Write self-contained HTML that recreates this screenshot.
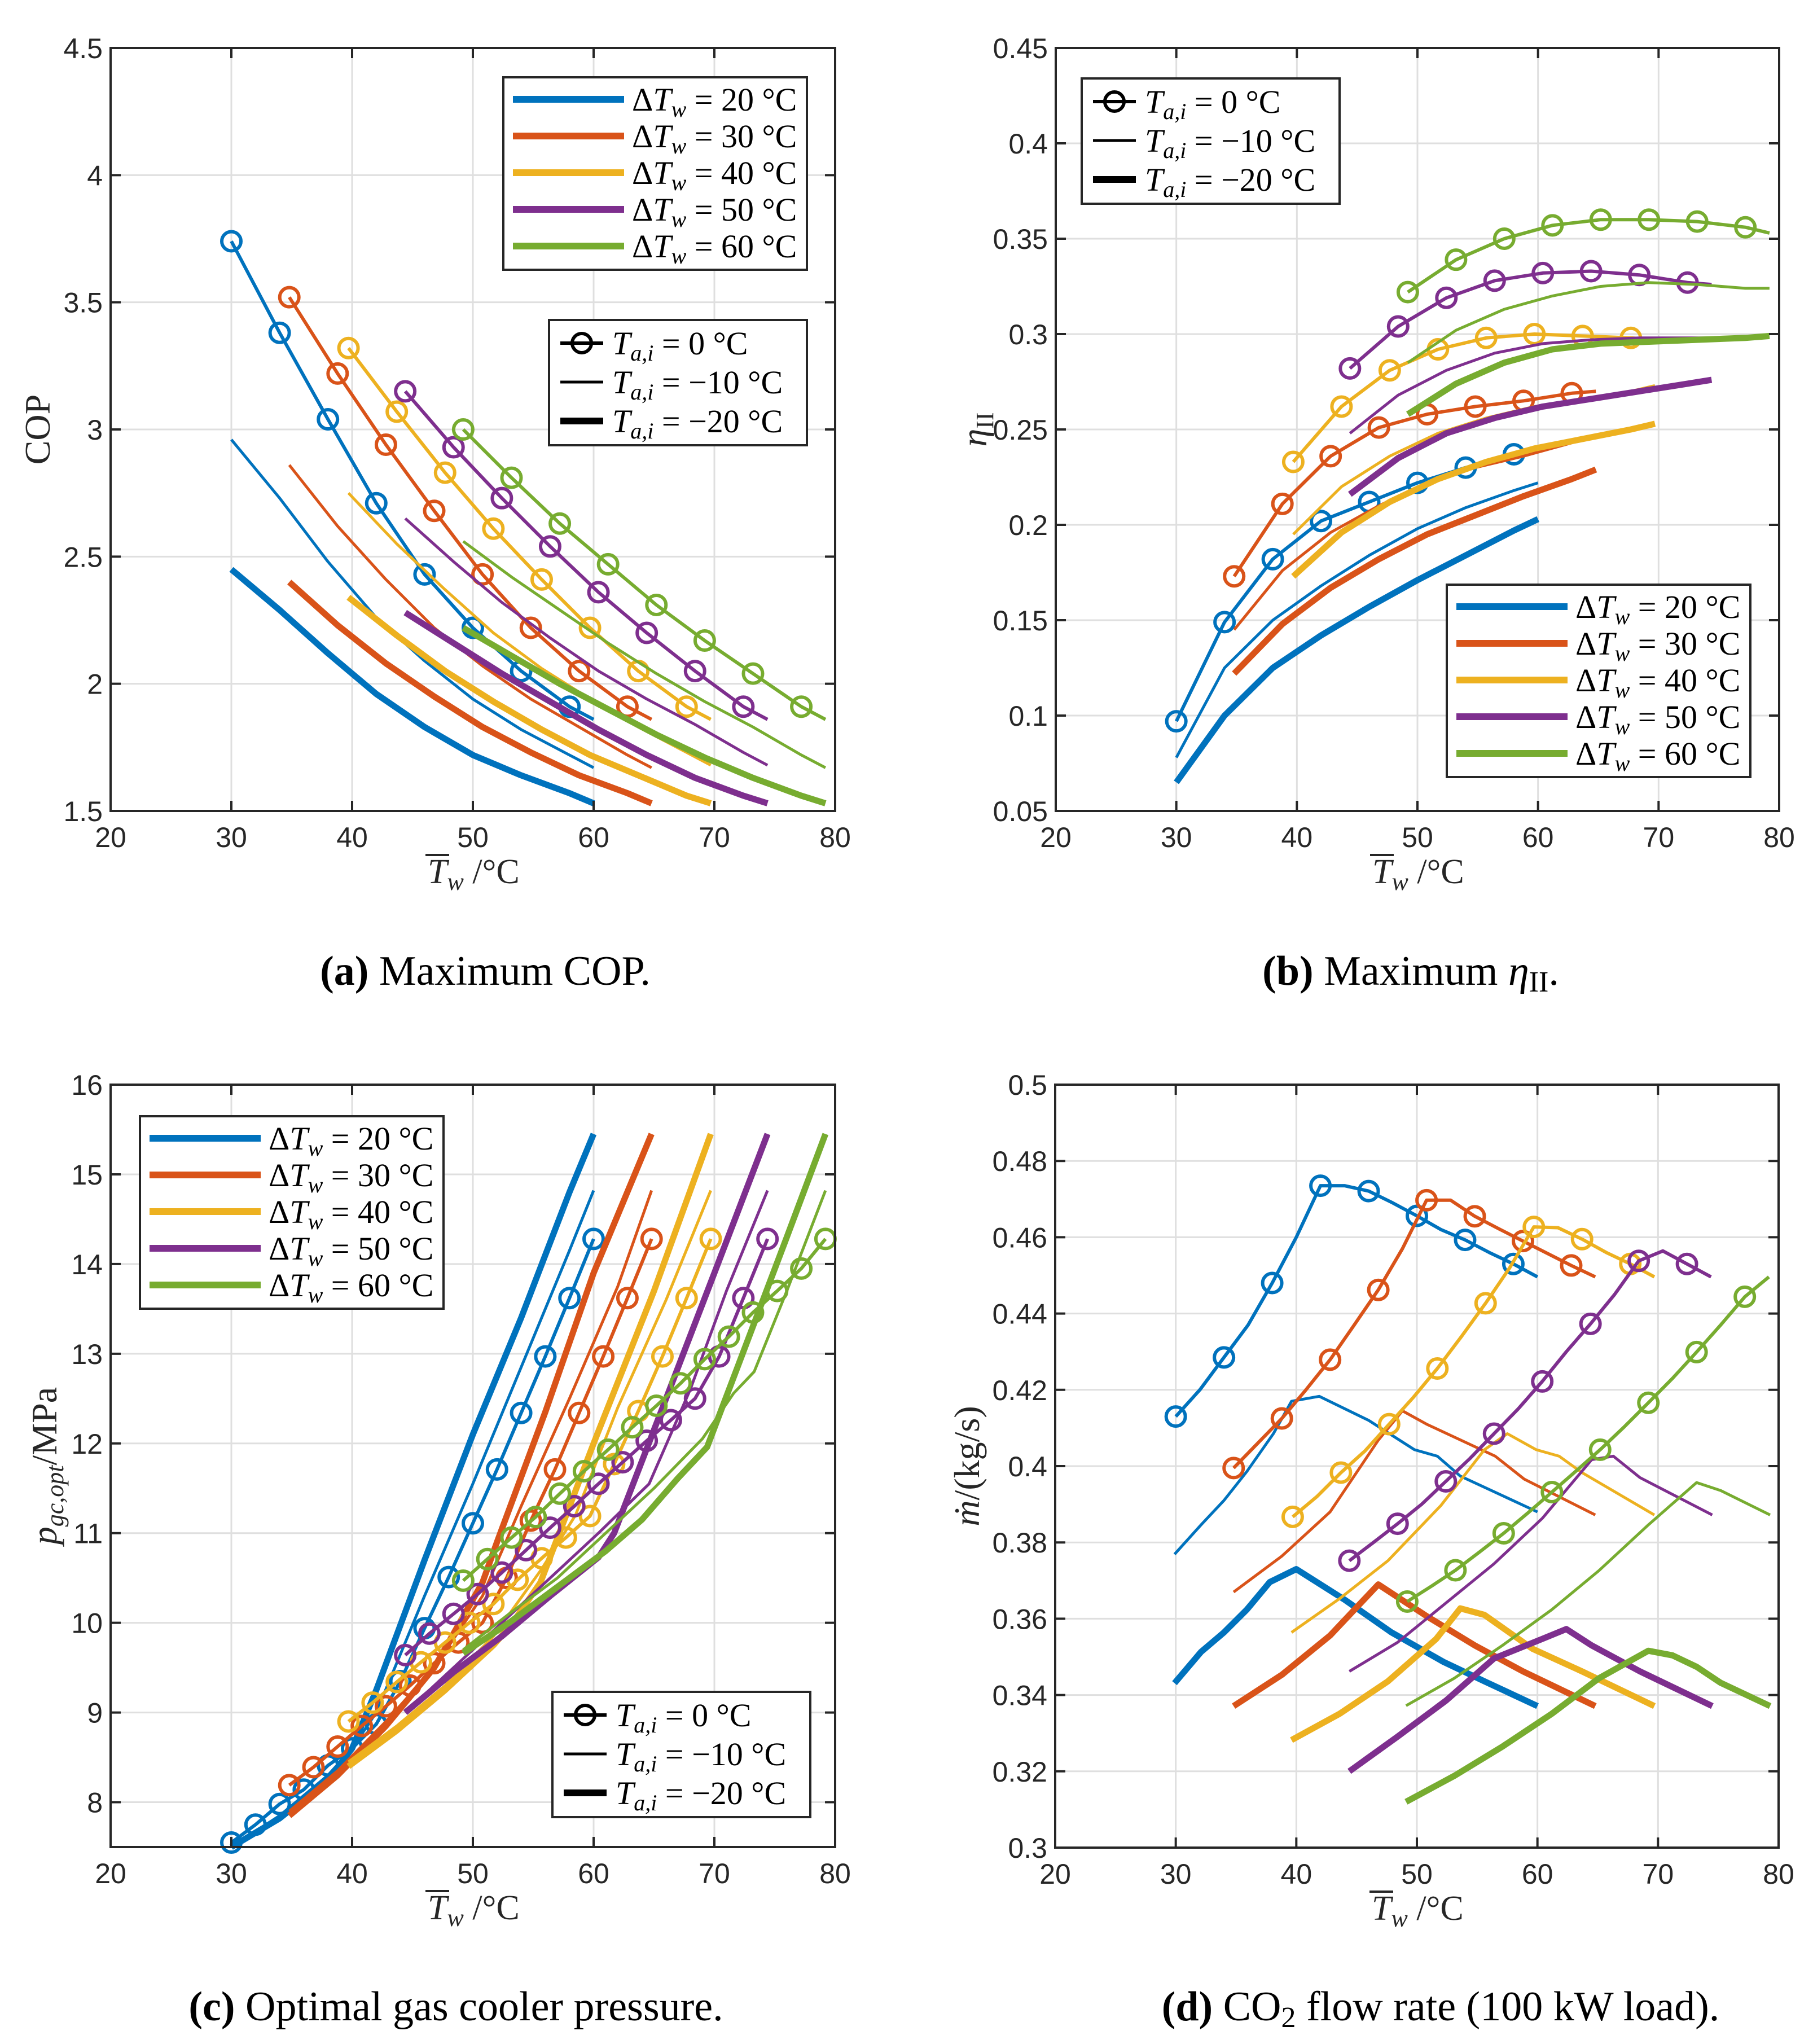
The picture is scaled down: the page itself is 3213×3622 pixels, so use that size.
<!DOCTYPE html>
<html><head><meta charset="utf-8"><title>CO2 heat pump performance</title>
<style>
html,body{margin:0;padding:0;background:#fff;}
svg{display:block;}
</style></head>
<body>
<svg id="chart" xmlns="http://www.w3.org/2000/svg" width="3213" height="3622" viewBox="0 0 3213 3622"></svg>
<script>
// ---------- data ----------
const seriesNames = ["dT20","dT30","dT40","dT50","dT60"];
const xTicks = [20,30,40,50,60,70,80];
const copTicks = [1.5,2,2.5,3,3.5,4,4.5];
const copTickLabels = ["1.5","2","2.5","3","3.5","4","4.5"];
const etaTicks = [0.05,0.1,0.15,0.2,0.25,0.3,0.35,0.4,0.45];
const etaTickLabels = ["0.05","0.1","0.15","0.2","0.25","0.3","0.35","0.4","0.45"];
const pTicks = [8,9,10,11,12,13,14,15,16];
const pTickLabels = ["8","9","10","11","12","13","14","15","16"];
const mTicks = [0.3,0.32,0.34,0.36,0.38,0.4,0.42,0.44,0.46,0.48,0.5];
const mTickLabels = ["0.3","0.32","0.34","0.36","0.38","0.4","0.42","0.44","0.46","0.48","0.5"];

const xAB = [
[30,34,38,42,46,50,54,58,60],
[34.8,38.8,42.8,46.8,50.8,54.8,58.8,62.8,64.8],
[39.7,43.7,47.7,51.7,55.7,59.7,63.7,67.7,69.7],
[44.4,48.4,52.4,56.4,60.4,64.4,68.4,72.4,74.4],
[49.2,53.2,57.2,61.2,65.2,69.2,73.2,77.2,79.2]];

const copY0 = [
[3.74,3.38,3.04,2.71,2.43,2.22,2.05,1.91,1.86],
[3.52,3.22,2.94,2.68,2.43,2.22,2.05,1.91,1.86],
[3.32,3.07,2.83,2.61,2.41,2.22,2.05,1.91,1.86],
[3.15,2.93,2.73,2.54,2.36,2.20,2.05,1.91,1.86],
[3.00,2.81,2.63,2.47,2.31,2.17,2.04,1.91,1.86]];
const copY10 = [
[2.96,2.73,2.48,2.26,2.09,1.94,1.82,1.72,1.67],
[2.86,2.62,2.41,2.22,2.07,1.94,1.83,1.72,1.67],
[2.75,2.55,2.37,2.20,2.06,1.94,1.83,1.73,1.68],
[2.65,2.48,2.32,2.18,2.05,1.94,1.84,1.73,1.68],
[2.56,2.42,2.29,2.16,2.04,1.93,1.83,1.72,1.67]];
const copY20 = [
[2.45,2.29,2.12,1.96,1.83,1.72,1.64,1.57,1.53],
[2.40,2.23,2.08,1.95,1.83,1.73,1.64,1.57,1.53],
[2.34,2.19,2.05,1.93,1.82,1.72,1.64,1.56,1.53],
[2.28,2.16,2.04,1.93,1.82,1.72,1.63,1.56,1.53],
[2.22,2.11,2.00,1.90,1.80,1.71,1.63,1.56,1.53]];

const etaY0 = [
[0.097,0.149,0.182,0.202,0.212,0.222,0.230,0.237,0.240],
[0.173,0.211,0.236,0.251,0.258,0.262,0.265,0.269,0.270],
[0.233,0.262,0.281,0.292,0.298,0.300,0.299,0.298,0.297],
[0.282,0.304,0.319,0.328,0.332,0.333,0.331,0.327,0.326],
[0.322,0.339,0.350,0.357,0.360,0.360,0.359,0.356,0.353]];
const etaY10 = [
[0.078,0.125,0.150,0.168,0.184,0.198,0.209,0.218,0.222],
[0.145,0.176,0.196,0.210,0.222,0.230,0.236,0.243,0.247],
[0.195,0.220,0.236,0.248,0.256,0.262,0.266,0.270,0.273],
[0.248,0.268,0.281,0.290,0.295,0.297,0.298,0.298,0.298],
[0.285,0.302,0.313,0.320,0.325,0.327,0.326,0.324,0.324]];
const etaY20 = [
[0.065,0.100,0.125,0.142,0.157,0.171,0.184,0.197,0.203],
[0.122,0.148,0.167,0.182,0.195,0.205,0.215,0.224,0.229],
[0.173,0.196,0.212,0.224,0.233,0.240,0.245,0.250,0.253],
[0.216,0.235,0.248,0.256,0.262,0.266,0.270,0.274,0.276],
[0.258,0.274,0.285,0.292,0.295,0.296,0.297,0.298,0.299]];

const xCD0 = [
[30,32,34,36,38,40,42,44,46,48,50,52,54,56,58,60],
[34.8,36.8,38.8,40.8,42.8,44.8,46.8,48.8,50.8,52.8,54.8,56.8,58.8,60.8,62.8,64.8],
[39.7,41.7,43.7,45.7,47.7,49.7,51.7,53.7,55.7,57.7,59.7,61.7,63.7,65.7,67.7,69.7],
[44.4,46.4,48.4,50.4,52.4,54.4,56.4,58.4,60.4,62.4,64.4,66.4,68.4,70.4,72.4,74.4],
[49.2,51.2,53.2,55.2,57.2,59.2,61.2,63.2,65.2,67.2,69.2,71.2,73.2,75.2,77.2,79.2]];
const pY0 = [
[7.55,7.75,7.98,8.14,8.41,8.6,8.87,9.35,9.94,10.51,11.11,11.71,12.34,12.97,13.62,14.28],
[8.19,8.39,8.62,8.85,9.07,9.3,9.55,9.78,10.0,10.5,11.14,11.71,12.34,12.97,13.62,14.28],
[8.9,9.11,9.34,9.56,9.78,10.0,10.21,10.48,10.72,10.95,11.19,11.77,12.36,12.97,13.62,14.28],
[9.64,9.88,10.1,10.32,10.56,10.81,11.06,11.3,11.55,11.79,12.03,12.26,12.5,12.97,13.62,14.28],
[10.47,10.71,10.95,11.18,11.44,11.69,11.93,12.18,12.42,12.67,12.94,13.19,13.46,13.7,13.95,14.28]];
const pX10 = [
[30,34,38,40,42,46,50,54,58,60],
[34.8,38.8,42.8,46.8,50.8,54,58,62,64.8],
[39.7,43.7,47.7,51.7,55.7,58.5,62,66,69.7],
[44.4,48.4,52.4,56.4,60.4,64.6,68,71,74.4],
[49.2,53,57,61,65,69,71.6,73.3,76,79.2]];
const pY10 = [
[7.5,7.85,8.3,8.6,9.0,10.3,11.55,12.85,14.15,14.82],
[7.9,8.35,8.9,9.5,10.3,11.3,12.5,13.75,14.82],
[8.45,8.85,9.3,9.85,10.6,11.2,12.4,13.6,14.82],
[9.0,9.5,10.0,10.5,11.0,11.55,12.6,13.7,14.82],
[9.7,10.1,10.5,11.0,11.5,12.05,12.56,12.8,13.7,14.82]];
const pX20 = [
[30,34,38,40,42,46,50,54,58,60],
[34.8,38.8,42.8,46.8,50.8,52,56,60,64.8],
[39.7,43.7,47.7,51.7,53.2,55.6,60,65,69.7],
[44.4,48.4,52.4,56.4,60.4,61.7,66,70,74.4],
[49.2,53,57,61,64,66.9,69.4,72,76,79.2]];
const pY20 = [
[7.5,7.82,8.25,8.6,9.25,10.7,12.1,13.4,14.8,15.45],
[7.85,8.3,8.85,9.5,10.45,10.9,12.35,13.9,15.45],
[8.4,8.8,9.25,9.75,9.98,10.45,12.0,13.7,15.45],
[9.0,9.45,9.85,10.3,10.73,11.0,12.5,13.9,15.45],
[9.66,10.0,10.4,10.8,11.15,11.6,11.96,12.88,14.3,15.45]];

const mY0 = [
[0.413,0.42,0.4285,0.437,0.448,0.46,0.4735,0.4735,0.4721,0.469,0.4656,0.462,0.4593,0.456,0.453,0.4496],
[0.3995,0.406,0.4125,0.42,0.4279,0.437,0.4462,0.457,0.4697,0.4697,0.4655,0.4622,0.459,0.4558,0.4526,0.4496],
[0.3867,0.392,0.3983,0.404,0.411,0.418,0.4256,0.434,0.4427,0.452,0.4627,0.4625,0.4595,0.456,0.453,0.4496],
[0.3752,0.38,0.3849,0.39,0.396,0.402,0.4085,0.415,0.4222,0.43,0.4373,0.445,0.4538,0.4564,0.453,0.4496],
[0.3645,0.3685,0.3727,0.3775,0.3824,0.3877,0.3932,0.3987,0.4043,0.4103,0.4166,0.423,0.4299,0.437,0.4444,0.4496]];
const mX10 = [
[29.9,32.1,34,35.9,38.1,39.6,41.9,46,49.8,51.7,53.6,60],
[34.8,38.8,42.8,46.8,48.8,50.8,56.5,58.9,64.8],
[39.6,43.6,47.6,52,55.6,57.5,59.9,61.8,63.7,69.7],
[44.4,48.4,52.4,56.4,60.4,64.5,66.3,68.5,74.5],
[49.1,53.1,57.1,61.2,65.1,69.2,73.2,75.2,79.3]];
const mY10 = [
[0.3769,0.3846,0.391,0.3986,0.4085,0.417,0.4183,0.412,0.4043,0.4026,0.3974,0.388],
[0.367,0.3764,0.388,0.4068,0.4145,0.411,0.4026,0.3966,0.3872],
[0.3564,0.3653,0.3752,0.3897,0.4043,0.4085,0.4043,0.4026,0.3983,0.3872],
[0.3462,0.3538,0.3641,0.3744,0.3863,0.4017,0.4026,0.397,0.3872],
[0.3372,0.3444,0.353,0.3624,0.3726,0.3846,0.3957,0.3936,0.3872]];
const mX20 = [
[29.9,32.1,34,35.9,37.8,40,44,47.9,52.2,55.6,60],
[34.8,38.8,42.8,46.8,50.8,54.8,58.8,64.8],
[39.6,43.6,47.6,51.6,53.6,55.6,59.6,63.7,69.7],
[44.4,48.4,52.4,56.4,60.4,62.4,64.5,68.5,74.5],
[49.1,53.1,57.1,61.2,65.1,69.2,71.2,73.2,75.2,79.3]];
const mY20 = [
[0.3431,0.3513,0.3564,0.3624,0.3696,0.373,0.365,0.3564,0.3487,0.3436,0.3371],
[0.3371,0.3453,0.3556,0.369,0.3607,0.353,0.3462,0.3371],
[0.3282,0.3351,0.3436,0.3547,0.3627,0.361,0.3521,0.3462,0.3371],
[0.32,0.3291,0.3385,0.3496,0.3547,0.3573,0.353,0.3462,0.3371],
[0.312,0.3188,0.3265,0.3351,0.3444,0.3516,0.3504,0.3474,0.3432,0.3371]];

const legendDT = ["20","30","40","50","60"];
const legendTa = ["0","\u221210","\u221220"];

// ---------- rendering ----------
const NS = "http://www.w3.org/2000/svg";
const svg = document.getElementById("chart");
const COLORS = ["#0072BD","#D95319","#EDB120","#7E2F8E","#77AC30"];
const INK = "#262626";
function mk(tag, attrs, parent){
  const e = document.createElementNS(NS, tag);
  for (const k in attrs) e.setAttribute(k, attrs[k]);
  parent.appendChild(e);
  return e;
}

function makeAxes(P, yTicks, yLabels){
  const g = mk("g", {}, svg);
  
  
  P.sx = v => P.x0 + (v - 20) / 60 * (P.x1 - P.x0);
  P.sy = v => P.y1 - (v - P.ymin) / (P.ymax - P.ymin) * (P.y1 - P.y0);
  const grid = mk("g", {stroke:"#dfdfdf","stroke-width":3}, g);
  
  
  xTicks.forEach(t => mk("line", {x1:P.sx(t), x2:P.sx(t), y1:P.y0, y2:P.y1}, grid));
  yTicks.forEach(t => mk("line", {x1:P.x0, x2:P.x1, y1:P.sy(t), y2:P.sy(t)}, grid));
  P.g = g;
  P.plot = mk("g", {fill:"none","stroke-linejoin":"round","stroke-linecap":"butt"}, g);
  
  
  P.yTicks = yTicks; P.yLabels = yLabels;
}

function finishAxes(P){
  const g = P.g;
  const ax = mk("g", {stroke:INK,"stroke-width":4}, g);
  
  
  mk("rect", {x:P.x0, y:P.y0, width:P.x1-P.x0, height:P.y1-P.y0, fill:"none"}, ax);
  const L = 18;
  xTicks.forEach(t => {
    mk("line", {x1:P.sx(t), x2:P.sx(t), y1:P.y1, y2:P.y1-L}, ax);
    mk("line", {x1:P.sx(t), x2:P.sx(t), y1:P.y0, y2:P.y0+L}, ax);
  });
  P.yTicks.forEach(t => {
    mk("line", {x1:P.x0, x2:P.x0+L, y1:P.sy(t), y2:P.sy(t)}, ax);
    mk("line", {x1:P.x1, x2:P.x1-L, y1:P.sy(t), y2:P.sy(t)}, ax);
  });
  const tl = mk("g", {fill:INK,"font-family":"'Liberation Sans', Arial, sans-serif","font-size":50}, g);
  
  
  xTicks.forEach(t => {
    const e = mk("text", {x:P.sx(t), y:P.y1+64, "text-anchor":"middle"}, tl);
    e.textContent = String(t);
  });
  P.yTicks.forEach((t,i) => {
    const e = mk("text", {x:P.x0-14, y:P.sy(t)+18, "text-anchor":"end"}, tl);
    e.textContent = P.yLabels[i];
  });
  // x-axis title
  const cx = (P.x0+P.x1)/2;
  const xt = mk("g", {}, g);
  
  
  const tx = mk("text", {x:cx-80, y:P.y1+128, "font-family":"'Liberation Serif', serif","font-size":62, fill:INK}, xt);
  tx.innerHTML = '<tspan font-style="italic">T</tspan><tspan font-style="italic" font-size="44" dy="12">w</tspan><tspan dy="-12"> /°C</tspan>';
  mk("line", {x1:cx-84, x2:cx-42, y1:P.y1+78, y2:P.y1+78, stroke:INK, "stroke-width":4}, xt);
}

function drawSeries(P, xs, ys, color, width, marker){
  const pts = xs.map((x,i) => P.sx(x).toFixed(1)+","+P.sy(ys[i]).toFixed(1)).join(" ");
  const pl = mk("polyline", {points:pts, stroke:color, "stroke-width":width}, P.plot);
  
  
  if (marker){
    xs.forEach((x,i) => {
      if (i % marker.every !== 0) return;
      if (i === xs.length-1 && !marker.last) return;
      const c = mk("circle", {cx:P.sx(x), cy:P.sy(ys[i]), r:17, stroke:color, "stroke-width":6, fill:"none"}, P.plot);
      
      
    });
  }
}

function legendDTBox(P, x, y){
  const g = mk("g", {}, P.g);
  
  
  mk("rect", {x:x, y:y, width:538, height:341, fill:"#fff", stroke:INK, "stroke-width":4}, g);
  legendDT.forEach((v,i) => {
    const yy = y + 39 + i*65;
    const e = mk("g", {}, g);
    
    
    mk("line", {x1:x+17, x2:x+214, y1:yy, y2:yy, stroke:COLORS[i], "stroke-width":12}, e);
    const t = mk("text", {x:x+228, y:yy+20, "font-family":"'Liberation Serif', serif","font-size":58, fill:"#000"}, e);
    t.innerHTML = 'Δ<tspan font-style="italic">T</tspan><tspan font-style="italic" font-size="40" dy="11">w</tspan><tspan dy="-11"> = ' + v + ' °C</tspan>';
  });
}

function legendTaBox(P, x, y){
  const g = mk("g", {}, P.g);
  
  
  mk("rect", {x:x, y:y, width:457, height:222, fill:"#fff", stroke:INK, "stroke-width":4}, g);
  legendTa.forEach((v,i) => {
    const yy = y + 41 + i*69;
    const e = mk("g", {}, g);
    
    
    const w = i===0 ? 6 : (i===1 ? 5 : 12);
    mk("line", {x1:x+20, x2:x+96, y1:yy, y2:yy, stroke:"#000", "stroke-width":w}, e);
    if (i===0) mk("circle", {cx:x+58, cy:yy, r:17, stroke:"#000", "stroke-width":6, fill:"none"}, e);
    const t = mk("text", {x:x+112, y:yy+20, "font-family":"'Liberation Serif', serif","font-size":58, fill:"#000"}, e);
    t.innerHTML = '<tspan font-style="italic">T</tspan><tspan font-style="italic" font-size="40" dy="11">a,i</tspan><tspan dy="-11"> = ' + v + ' °C</tspan>';
  });
}

function yTitle(P, x, html){
  const cy = (P.y0+P.y1)/2;
  const t = mk("text", {x:x, y:cy, "text-anchor":"middle", transform:"rotate(-90 "+x+" "+cy+")", "font-family":"'Liberation Serif', serif","font-size":64, fill:INK}, P.g);
  
  
  t.innerHTML = html;
}

function caption(x, y, html){
  const t = mk("text", {x:x, y:y, "text-anchor":"middle", "font-family":"'Liberation Serif', serif","font-size":74, fill:"#000"}, svg);
  
  
  t.innerHTML = html;
}

function drawSet(P, x0s, y0s, x10s, y10s, x20s, y20s, marker){
  for (let i=0;i<5;i++){
    drawSeries(P, x20s[i], y20s[i], COLORS[i], 11, null);
    drawSeries(P, x10s[i], y10s[i], COLORS[i], 5, null);
    drawSeries(P, x0s[i], y0s[i], COLORS[i], 6, marker);
  }
}

// Panel A
const PA = {name:"panel-a-max-cop", x0:196, x1:1480, y0:85, y1:1437, ymin:1.5, ymax:4.5};
makeAxes(PA, copTicks, copTickLabels);
drawSet(PA, xAB, copY0, xAB, copY10, xAB, copY20, {every:1, last:false});
finishAxes(PA);
legendDTBox(PA, 892, 137);
legendTaBox(PA, 973, 567);
yTitle(PA, 88, 'COP');

// Panel B
const PB = {name:"panel-b-max-eta", x0:1871, x1:3153, y0:85, y1:1437, ymin:0.05, ymax:0.45};
makeAxes(PB, etaTicks, etaTickLabels);
drawSet(PB, xAB, etaY0, xAB, etaY10, xAB, etaY20, {every:1, last:false});
finishAxes(PB);
legendTaBox(PB, 1917, 139);
legendDTBox(PB, 2564, 1036);
yTitle(PB, 1748, '<tspan font-style="italic">η</tspan><tspan font-size="44" dy="12">II</tspan>');

// Panel C
const PC = {name:"panel-c-gas-cooler-pressure", x0:196, x1:1480, y0:1922, y1:3273, ymin:7.5, ymax:16};
makeAxes(PC, pTicks, pTickLabels);
drawSet(PC, xCD0, pY0, pX10, pY10, pX20, pY20, {every:1, last:true});
finishAxes(PC);
legendDTBox(PC, 248, 1978);
legendTaBox(PC, 979, 2998);
yTitle(PC, 100, '<tspan font-style="italic">p</tspan><tspan font-style="italic" font-size="44" dy="12">gc,opt</tspan><tspan dy="-12">/MPa</tspan>');

// Panel D
const PD = {name:"panel-d-co2-flow-rate", x0:1870, x1:3152, y0:1922, y1:3274, ymin:0.3, ymax:0.5};
makeAxes(PD, mTicks, mTickLabels);
drawSet(PD, xCD0, mY0, mX10, mY10, mX20, mY20, {every:2, last:false});
finishAxes(PD);
yTitle(PD, 1735, '<tspan font-style="italic">ṁ</tspan>/(kg/s)');

// captions
caption(860, 1745, '<tspan font-weight="bold">(a)</tspan> Maximum COP.');
caption(2500, 1745, '<tspan font-weight="bold">(b)</tspan> Maximum <tspan font-style="italic">η</tspan><tspan font-size="52" dy="12">II</tspan><tspan dy="-12">.</tspan>');
caption(808, 3580, '<tspan font-weight="bold">(c)</tspan> Optimal gas cooler pressure.');
caption(2553, 3580, '<tspan font-weight="bold">(d)</tspan> CO<tspan font-size="52" dy="12">2</tspan><tspan dy="-12"> flow rate (100 kW load).</tspan>');
</script>
</body></html>
